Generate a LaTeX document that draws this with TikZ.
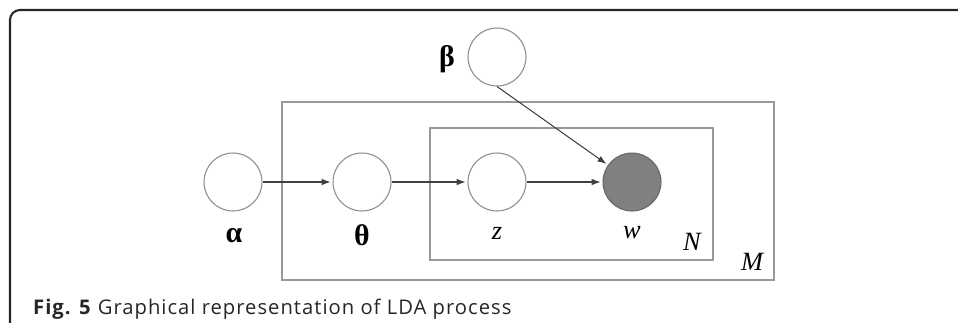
\documentclass[tikz,border=0pt]{standalone}
\usepackage{fontspec}
\setmainfont{Open Sans}
\newfontfamily\lblfont{Liberation Serif}
\newfontfamily\capfont[LetterSpace=5]{Open Sans}
\usetikzlibrary{arrows.meta}
\tikzset{
  var/.style={circle,draw=black!45,line width=0.6pt,minimum size=1.16cm,inner sep=0pt},
  obs/.style={var,fill=black!50,draw=black!60},
  plate/.style={draw=black!40,line width=0.8pt},
  edge/.style={-{Latex[length=1.8mm,width=1.3mm]},draw=black!75,line width=0.6pt,shorten >=1pt},
  lbl/.style={font=\lblfont\fontsize{15}{18}\selectfont},
  greek/.style={font=\lblfont\fontsize{17}{20}\selectfont\bfseries}
}
\begin{document}
\begin{tikzpicture}[x=0.02cm,y=-0.02cm]
  \useasboundingbox (0,0) rectangle (958,322);
  \draw[line width=1.2pt,black!85,rounded corners=0.2cm] (10,340) -- (10,10) -- (980,10);
  \draw[plate] (282,102) rectangle (774,280);
  \draw[plate] (430,128) rectangle (713,260);
  \node[var] (alpha) at (233,182) {};
  \node[var] (theta) at (362,182) {};
  \node[var] (z) at (497,182) {};
  \node[obs] (w) at (632,182) {};
  \node[var] (beta) at (497,57) {};
  \node[greek] (alphalbl) at (234,236) {α};
  \node[greek] (thetalbl) at (362,235) {θ};
  \node[greek] (betalbl) at (447,59) {β};
  \node[lbl] (zlbl) at (497,233) {\itshape z};
  \node[lbl] (wlbl) at (632,233) {\itshape w};
  \node[lbl] (Nlbl) at (692,242) {\itshape N};
  \node[lbl] (Mlbl) at (752,262) {\itshape M};
  \draw[edge] (alpha) -- (theta);
  \draw[edge] (theta) -- (z);
  \draw[edge] (z) -- (w);
  \draw[edge] (beta.south) -- (w);
  \node[anchor=base west,text=black!85] (caption) at (27,314)
    {\capfont\fontsize{11.5}{14}\selectfont\textbf{Fig. 5} Graphical representation of LDA process};
\end{tikzpicture}
\end{document}
